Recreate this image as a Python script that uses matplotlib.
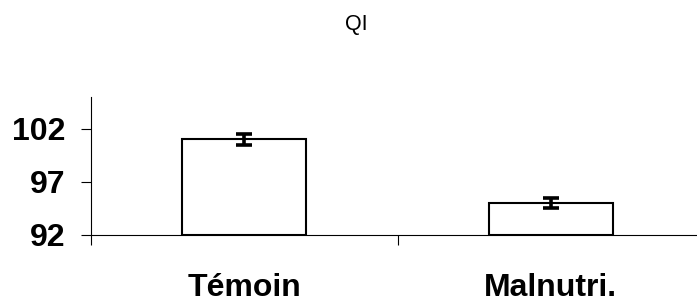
import matplotlib
matplotlib.use("Agg")
import matplotlib.pyplot as plt
import matplotlib.transforms as mtrans
import numpy as np

categories = ["Témoin", "Malnutri."]
values = [101.0, 95.0]
errors = [0.5, 0.5]
yticks = [92, 97, 102]
title = "QI"

W, H = 697, 303
fig = plt.figure(figsize=(W/100, H/100), dpi=100)
plt.rcParams['font.family'] = ['Liberation Sans', 'DejaVu Sans']

left, right, top, bottom = 91, 697, 97, 235
ax = fig.add_axes([left/W, 1-bottom/H, (right-left)/W, (bottom-top)/H])

x = np.arange(len(categories))
ax.bar(x, [v - 92 for v in values], bottom=92, width=0.405, color='white',
       edgecolor='black', linewidth=1.5, zorder=2)
ax.errorbar(x, values, yerr=errors, fmt='none', ecolor='black', elinewidth=2.6,
            capsize=6, capthick=2.6, zorder=3)

ax.set_xticks([-0.5, 0.5, 1.5])
ax.set_xticklabels([])
ax.tick_params(axis='x', direction='out', length=7.2, width=0.8)
ax.set_xlim(-0.5, -0.5 + (right-left)/306.5)

ax.set_yticks(yticks)
ax.set_yticklabels([str(t) for t in yticks], fontsize=23, fontweight='bold')
ax.set_ylim(92, 105)
ax.tick_params(axis='y', direction='out', length=7.2, width=0.8, pad=11)

trans = mtrans.blended_transform_factory(ax.transData, fig.transFigure)
for xi, c in zip(x, categories):
    ax.text(xi, 1 - 296/H, c, transform=trans, ha='center', va='baseline',
            fontsize=23, fontweight='bold')

for s in ['top', 'right']:
    ax.spines[s].set_visible(False)
for s in ['left', 'bottom']:
    ax.spines[s].set_linewidth(0.8)

fig.text(356/W, 1-30/H, title, ha='center', va='baseline', fontsize=15.5)

fig.savefig("out.png", dpi=100)
